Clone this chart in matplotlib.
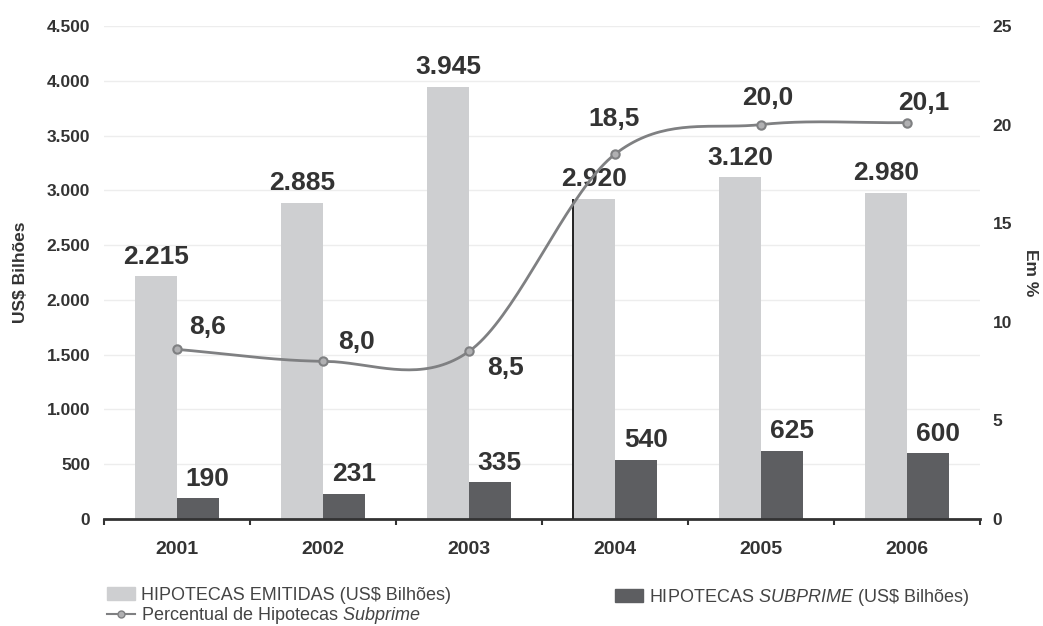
import numpy as np
import matplotlib
matplotlib.use("Agg")
import matplotlib.pyplot as plt
from matplotlib.patches import Patch
from matplotlib.lines import Line2D

plt.rcParams['font.family'] = ['Liberation Sans', 'DejaVu Sans']
plt.rcParams['mathtext.fontset'] = 'custom'
plt.rcParams['mathtext.rm'] = 'Liberation Sans'
plt.rcParams['mathtext.it'] = 'Liberation Sans:italic'

# ---- data ----
years = ["2001", "2002", "2003", "2004", "2005", "2006"]
emitidas = [2215, 2885, 3945, 2920, 3120, 2980]
subprime = [190, 231, 335, 540, 625, 600]
percentual = [8.6, 8.0, 8.5, 18.5, 20.0, 20.1]
emitidas_labels = ["2.215", "2.885", "3.945", "2.920", "3.120", "2.980"]
subprime_labels = ["190", "231", "335", "540", "625", "600"]
percentual_labels = ["8,6", "8,0", "8,5", "18,5", "20,0", "20,1"]
left_ticks = [0, 500, 1000, 1500, 2000, 2500, 3000, 3500, 4000, 4500]
left_ticklabels = ["0", "500", "1.000", "1.500", "2.000", "2.500", "3.000", "3.500", "4.000", "4.500"]
right_ticks = [0, 5, 10, 15, 20, 25]

# label offsets in points (dx, dy) for the percentage labels
pct_offsets = [(22, 16), (24, 14), (26, -12), (-1, 25), (5, 19), (12, 14)]

LIGHT = "#cecfd1"
DARK = "#5d5e61"
LINE = "#7f8082"
TXT = "#333333"

fig = plt.figure(figsize=(10.43, 6.26), dpi=100)
ax = fig.add_axes([104/1043, 1-519/626, (980-104)/1043, (519-26)/626])
ax2 = ax.twinx()

x = np.arange(len(years))
w = 0.288

ax.bar(x - w/2, emitidas, width=w, color=LIGHT, zorder=2)
ax.bar(x + w/2, subprime, width=w, color=DARK, zorder=2)

ax.set_xlim(-0.5, len(years) - 0.5)
ax.set_ylim(0, 4500)
ax2.set_ylim(0, 25)

ax.set_yticks(left_ticks)
ax.set_yticklabels(left_ticklabels)
ax2.set_yticks(right_ticks)

for y in left_ticks[1:]:
    ax.axhline(y, color="#ededed", lw=1, zorder=0)

# vertical marker line at 2004
ax.vlines(x[3] - w, 0, emitidas[3], color="#222222", lw=1.4, zorder=3)

for xi, v, lab in zip(x, emitidas, emitidas_labels):
    ax.annotate(lab, (xi - w/2, v), xytext=(0, 5.5), textcoords="offset points",
                ha="center", va="bottom", fontsize=19, fontweight="bold", color=TXT)
for xi, v, lab in zip(x, subprime, subprime_labels):
    ax.annotate(lab, (xi + w/2, v), xytext=(7, 5.5), textcoords="offset points",
                ha="center", va="bottom", fontsize=19, fontweight="bold", color=TXT)

# smooth (Catmull-Rom style) curve through the percentages
p = np.array(percentual, dtype=float)
n = len(p)
m = np.empty(n)
m[0] = p[1] - p[0]
m[-1] = p[-1] - p[-2]
m[1:-1] = (p[2:] - p[:-2]) / 2
xs, ys = [], []
for i in range(n - 1):
    t = np.linspace(0, 1, 40)
    h00 = 2*t**3 - 3*t**2 + 1
    h10 = t**3 - 2*t**2 + t
    h01 = -2*t**3 + 3*t**2
    h11 = t**3 - t**2
    xs.append(x[i] + t)
    ys.append(h00*p[i] + h10*m[i] + h01*p[i+1] + h11*m[i+1])
ax2.plot(np.concatenate(xs), np.concatenate(ys), color=LINE, lw=2, zorder=4)
ax2.plot(x, p, linestyle="none", marker="o", ms=6, mfc="#b0b0b2", mec=LINE, mew=1.5, zorder=5)

for xi, v, lab, (dx, dy) in zip(x, percentual, percentual_labels, pct_offsets):
    ax2.annotate(lab, (xi, v), xytext=(dx, dy), textcoords="offset points",
                 ha="center", va="center", fontsize=19, fontweight="bold", color=TXT)

# axes styling
for a in (ax, ax2):
    for s in ("top", "right", "left"):
        a.spines[s].set_visible(False)
ax2.spines["bottom"].set_visible(False)
ax.spines["bottom"].set_color("#333333")
ax.spines["bottom"].set_linewidth(2)

ax.set_xticks(x)
ax.set_xticklabels(years, fontsize=14, fontweight="bold", color=TXT)
ax.set_xticks(np.arange(len(years) + 1) - 0.5, minor=True)
ax.tick_params(axis="x", which="major", length=0, pad=16)
ax.tick_params(axis="x", which="minor", length=4, width=1.5, color="#333333", direction="out")
ax.tick_params(axis="y", length=0, pad=10, labelsize=12.5, labelcolor=TXT)
ax2.tick_params(axis="y", length=0, pad=9, labelsize=12.5, labelcolor=TXT)
for lbl in ax.get_yticklabels() + ax2.get_yticklabels():
    lbl.set_fontweight("bold")

ax.set_ylabel("US$ Bilhões", fontsize=12.5, fontweight="bold", color=TXT, labelpad=13)
ax2.set_ylabel("Em %", fontsize=12.5, fontweight="bold", color=TXT, rotation=270, labelpad=19)

legend_kw = dict(loc="upper left", frameon=False, fontsize=13, handlelength=1.55,
                 handletextpad=0.35, labelspacing=0.05, borderpad=0, borderaxespad=0,
                 labelcolor="#444444")
leg1 = fig.legend(
    [Patch(color=LIGHT),
     Line2D([], [], color=LINE, lw=1.5, marker="o", ms=5, mfc="#b0b0b2", mec=LINE)],
    ["HIPOTECAS EMITIDAS (US\\$ Bilhões)", "Percentual de Hipotecas $\\it{Subprime}$"],
    bbox_to_anchor=(107/1043, 1-587/626), **legend_kw)
leg2 = fig.legend(
    [Patch(color=DARK)],
    ["HIPOTECAS $\\it{SUBPRIME}$ (US\\$ Bilhões)"],
    bbox_to_anchor=(615/1043, 1-587/626), **legend_kw)

fig.savefig("out.png", dpi=100)
